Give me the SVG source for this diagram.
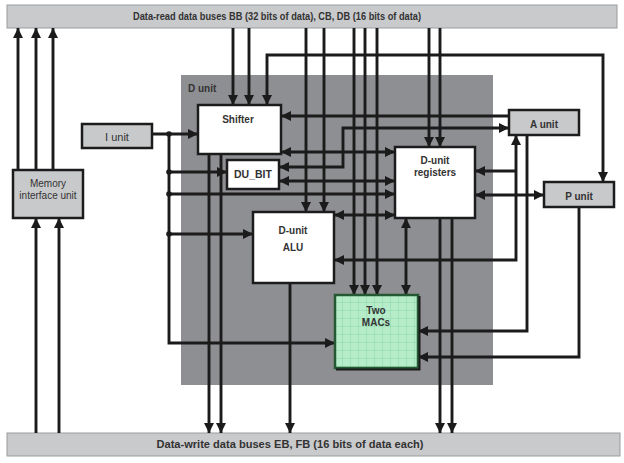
<svg xmlns="http://www.w3.org/2000/svg" width="624" height="463" viewBox="0 0 624 463">
<style>
.bar{fill:#c9cacc;stroke:#9a9b9e;stroke-width:1}
.unit{fill:#c8c9cb;stroke:#1c1c1c;stroke-width:2.5}
.wbox{fill:#ffffff;stroke:#1c1c1c;stroke-width:2.5}
.t{font-family:"Liberation Sans",Arial,sans-serif;fill:#333;text-anchor:middle}
.b{font-weight:bold}
.c{fill:none;stroke:#1b1b1b;stroke-width:2.9}
.a{marker-end:url(#ah)}
.aa{marker-start:url(#ah);marker-end:url(#ah)}
</style>
<defs>
<marker id="ah" viewBox="0 0 10 10" refX="10" refY="5" markerWidth="10" markerHeight="10" markerUnits="userSpaceOnUse" orient="auto-start-reverse">
<path d="M0,0 L10,5 L0,10 z" fill="#1b1b1b"/>
</marker>
<pattern id="grid" x="335" y="295" width="8" height="8" patternUnits="userSpaceOnUse">
<rect width="8" height="8" fill="#b6ecca"/>
<path d="M8,0 V8 M0,8 H8" stroke="#7cd09b" stroke-width="0.8"/>
</pattern>
</defs>

<g id="data-read-bus">
<rect class="bar" x="7" y="5" width="610" height="23"/>
<text class="t b" x="277" y="20" font-size="10" textLength="288" lengthAdjust="spacingAndGlyphs">Data-read data buses BB (32 bits of data), CB, DB (16 bits of data)</text>
</g>
<g id="data-write-bus">
<rect class="bar" x="7" y="433" width="613" height="23"/>
<text class="t b" x="290" y="448" font-size="10" textLength="267" lengthAdjust="spacingAndGlyphs">Data-write data buses EB, FB (16 bits of data each)</text>
</g>
<g id="d-unit">
<rect x="181" y="75" width="312" height="310" fill="#8e8f93"/>
<text class="t b" x="188" y="92" font-size="10" style="text-anchor:start" fill="#2a2a2a">D unit</text>
</g>

<g id="connectors">
<path class="c a" d="M18,170 V28"/>
<path class="c a" d="M36,170 V28"/>
<path class="c a" d="M53,170 V28"/>
<path class="c a" d="M36,433 V218"/>
<path class="c a" d="M59,433 V218"/>
<path class="c a" d="M152,134 H198"/>
<path class="c a" d="M169,134 V343 H335"/>
<path class="c a" d="M169,172 H227"/>
<path class="c a" d="M169,194 H395"/>
<path class="c a" d="M169,234 H253"/>
<path class="c a" d="M233,28 V105"/>
<path class="c a" d="M249,28 V105"/>
<path class="c aa" d="M267,105 V55 H603 V182"/>
<path class="c a" d="M306,28 V212"/>
<path class="c a" d="M324,28 V212"/>
<path class="c a" d="M354,28 V295"/>
<path class="c a" d="M365,28 V295"/>
<path class="c a" d="M377,28 V295"/>
<path class="c a" d="M429,28 V147"/>
<path class="c a" d="M440,28 V147"/>
<path class="c a" d="M209,154 V433"/>
<path class="c a" d="M221,154 V433"/>
<path class="c a" d="M290,283 V433"/>
<path class="c a" d="M440,218 V433"/>
<path class="c a" d="M452,218 V433"/>
<path class="c a" d="M509,116 H281"/>
<path class="c aa" d="M279,167 H343 V128 H509"/>
<path class="c aa" d="M281,152 H395"/>
<path class="c aa" d="M279,181 H395"/>
<path class="c aa" d="M334,215 H395"/>
<path class="c aa" d="M516,135 V260 H334"/>
<path class="c a" d="M516,171 H475"/>
<path class="c aa" d="M475,195 H544"/>
<path class="c a" d="M527,135 V331 H418"/>
<path class="c a" d="M579,207 V357 H418"/>
<path class="c aa" d="M406,218 V295"/>
<g fill="#1b1b1b">
<circle cx="169" cy="134" r="2.8"/>
<circle cx="169" cy="172" r="2.8"/>
<circle cx="169" cy="194" r="2.8"/>
<circle cx="169" cy="234" r="2.8"/>
</g>
</g>

<g id="memory-interface-unit">
<rect class="unit" x="13" y="170" width="70" height="48"/>
<text class="t" x="48" y="187" font-size="10" fill="#444">Memory</text>
<text class="t" x="48" y="198.5" font-size="10" fill="#444">interface unit</text>
</g>
<g id="i-unit">
<rect class="unit" x="82" y="124" width="70" height="24"/>
<text class="t" x="117" y="141" font-size="11">I unit</text>
</g>
<g id="shifter">
<rect class="wbox" x="198" y="105" width="83" height="49"/>
<text class="t b" x="238" y="123" font-size="10">Shifter</text>
</g>
<g id="du-bit">
<rect class="wbox" x="227" y="160" width="52" height="29"/>
<text class="t b" x="253" y="177.5" font-size="10.5">DU_BIT</text>
</g>
<g id="d-unit-alu">
<rect class="wbox" x="253" y="212" width="81" height="71"/>
<text class="t b" x="293" y="234" font-size="10">D-unit</text>
<text class="t b" x="293" y="251" font-size="10">ALU</text>
</g>
<g id="d-unit-registers">
<rect class="wbox" x="395" y="147" width="80" height="71"/>
<text class="t b" x="435" y="164" font-size="10">D-unit</text>
<text class="t b" x="435" y="176" font-size="10">registers</text>
</g>
<g id="a-unit">
<rect class="unit" x="509" y="110" width="70" height="25"/>
<text class="t b" x="544" y="127.5" font-size="10">A unit</text>
</g>
<g id="p-unit">
<rect class="unit" x="544" y="182" width="70" height="25"/>
<text class="t b" x="579" y="199.5" font-size="10">P unit</text>
</g>
<g id="two-macs">
<rect x="335" y="295" width="83" height="73" fill="url(#grid)" stroke="#245a33" stroke-width="2.5"/>
<path d="M419.5,296 V369.5 H336" fill="none" stroke="#1b1b1b" stroke-width="2"/>
<text class="t b" x="376" y="314" font-size="10" fill="#2e5a3c">Two</text>
<text class="t b" x="376" y="326" font-size="10" fill="#2e5a3c">MACs</text>
</g>
</svg>
